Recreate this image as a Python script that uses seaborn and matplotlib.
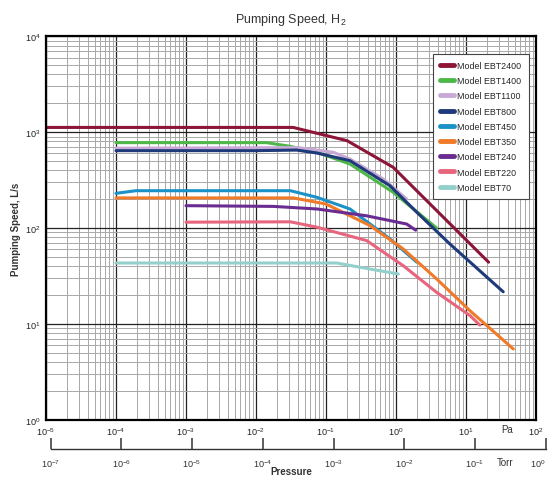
"""Pumping speed (H2) of the EBT cryopump models versus pressure."""

import matplotlib
matplotlib.use("Agg")

import matplotlib.pyplot as plt
import numpy as np
import pandas as pd
import seaborn as sns
from matplotlib.ticker import LogLocator, NullLocator, NullFormatter

sns.set_style("white")
plt.rcParams["font.family"] = ["Liberation Sans", "DejaVu Sans"]
plt.rcParams["mathtext.default"] = "regular"

# pressure in Pa, pumping speed in L/s
models = [
    "Model EBT2400", "Model EBT1400", "Model EBT1100", "Model EBT800",
    "Model EBT450", "Model EBT350", "Model EBT240", "Model EBT220",
    "Model EBT70",
]
colors = [
    "#8C1538", "#4DB848", "#C9A9D6", "#1F3A7A",
    "#1A92C8", "#F07A28", "#6B2C91", "#E8657E", "#93D0CC",
]

p_2400 = [1e-5, 0.034, 0.2, 0.91, 21]
s_2400 = [1120, 1120, 815, 430, 44]

p_1400 = [1e-4, 0.0142, 0.0306, 0.074, 0.22, 0.91, 3.8]
s_1400 = [777, 777, 712, 616, 465, 236, 100]

p_1100 = [1e-4, 0.04, 0.127, 0.22, 0.66, 1.42]
s_1100 = [680, 690, 617, 525, 324, 201]

p_800 = [1e-4, 0.01, 0.038, 0.074, 0.22, 0.82, 1.98, 5.9, 34]
s_800 = [641, 641, 650, 606, 504, 276, 146, 68, 21.6]

p_450 = [1e-4, 1.93e-4, 0.031, 0.074, 0.22, 0.82, 1.98]
s_450 = [230, 245, 245, 209, 158, 77, 44]

p_350 = [1e-4, 0.034, 0.1, 0.425, 1.27, 3.81, 11.4, 47.4]
s_350 = [206, 206, 178, 106, 60.4, 29.4, 13.7, 5.47]

p_240 = [1e-3, 0.0177, 0.074, 0.38, 1.42, 1.91]
s_240 = [171, 168, 158, 134, 110, 95]

p_220 = [1e-3, 0.031, 0.074, 0.38, 1.27, 3.81, 11.4, 15.8]
s_220 = [115, 116, 102, 74, 40.4, 21.3, 12.2, 9.7]

p_70 = [1e-4, 0.142, 0.31, 1.08]
s_70 = [43.1, 43.1, 38.9, 33.1]

pressures = [p_2400, p_1400, p_1100, p_800, p_450, p_350, p_240, p_220, p_70]
speeds = [s_2400, s_1400, s_1100, s_800, s_450, s_350, s_240, s_220, s_70]

pa_ticks = [1e-5, 1e-4, 1e-3, 1e-2, 1e-1, 1e0, 1e1, 1e2]
torr_ticks = [1e-7, 1e-6, 1e-5, 1e-4, 1e-3, 1e-2, 1e-1, 1e0]

frames = []
for name, p, s in zip(models, pressures, speeds):
    frames.append(pd.DataFrame({"model": name, "pressure": p, "speed": s}))
df = pd.concat(frames, ignore_index=True)

W, H = 550, 481
fig = plt.figure(figsize=(W / 100, H / 100), dpi=100)
ax = fig.add_axes([46 / W, 1 - 420.7 / H, 490 / W, 383.4 / H])

sns.lineplot(
    data=df, x="pressure", y="speed", hue="model", hue_order=models,
    palette=dict(zip(models, colors)), sort=False, estimator=None,
    linewidth=2.2, ax=ax,
)

ax.set_xscale("log")
ax.set_yscale("log")
ax.set_xlim(1e-5, 1e2)
ax.set_ylim(1, 1e4)
ax.set_xticks(pa_ticks)
for axis in (ax.xaxis, ax.yaxis):
    axis.set_minor_locator(LogLocator(base=10, subs=np.arange(2, 10), numticks=100))
    axis.set_minor_formatter(NullFormatter())
ax.grid(which="major", color="#222222", linewidth=0.9)
ax.grid(which="minor", color="#a8a8a8", linewidth=0.7)
ax.set_axisbelow(True)
ax.tick_params(which="both", length=0, labelsize=6.6, pad=4, colors="#222222")
for sp in ax.spines.values():
    sp.set_color("black")
    sp.set_linewidth(1.6)
    sp.set_visible(True)

ax.set_xlabel("")
ax.set_ylabel("Pumping Speed, L/s", fontsize=7, fontweight="bold",
              color="#333333", labelpad=3)

handles, labels = ax.get_legend_handles_labels()
leg = ax.legend(
    handles, labels, loc="upper right",
    bbox_to_anchor=(0.985, 0.954), borderaxespad=0, fontsize=6.4,
    handlelength=1.6, handletextpad=0.4, labelspacing=0.7,
    frameon=True, fancybox=False, framealpha=1, edgecolor="#444444",
    borderpad=0.8,
)
leg.get_frame().set_linewidth(0.8)
for line in leg.get_lines():
    line.set_linewidth(3.5)

# Torr scale below the Pa axis
tax = fig.add_axes([50.7 / W, 1 - 450 / H, 495 / W, 0.0001])
tax.set_xscale("log")
tax.set_xlim(1e-7, 1)
tax.set_xticks(torr_ticks)
tax.xaxis.set_minor_locator(NullLocator())
tax.yaxis.set_visible(False)
tax.patch.set_visible(False)
for side in ("top", "left", "right"):
    tax.spines[side].set_visible(False)
tax.spines["bottom"].set_linewidth(1.0)
tax.spines["bottom"].set_color("#333333")
tax.tick_params(axis="x", bottom=True, direction="in", length=7.7, width=1.1,
                labelsize=6.6, pad=6, colors="#333333")
tax.get_xticklabels()[-1].set_horizontalalignment("right")

fig.text(291 / W, 1 - 20 / H, "Pumping Speed, H$_2$", fontsize=9,
         ha="center", va="center", color="#333333")
fig.text(507 / W, 1 - 430 / H, "Pa", fontsize=7, ha="center", va="center",
         color="#333333")
fig.text(505 / W, 1 - 463 / H, "Torr", fontsize=7, ha="center", va="center",
         color="#333333")
fig.text(291 / W, 1 - 472 / H, "Pressure", fontsize=7, fontweight="bold",
         ha="center", va="center", color="#333333")

fig.savefig("out.png", dpi=100)
plt.close(fig)
